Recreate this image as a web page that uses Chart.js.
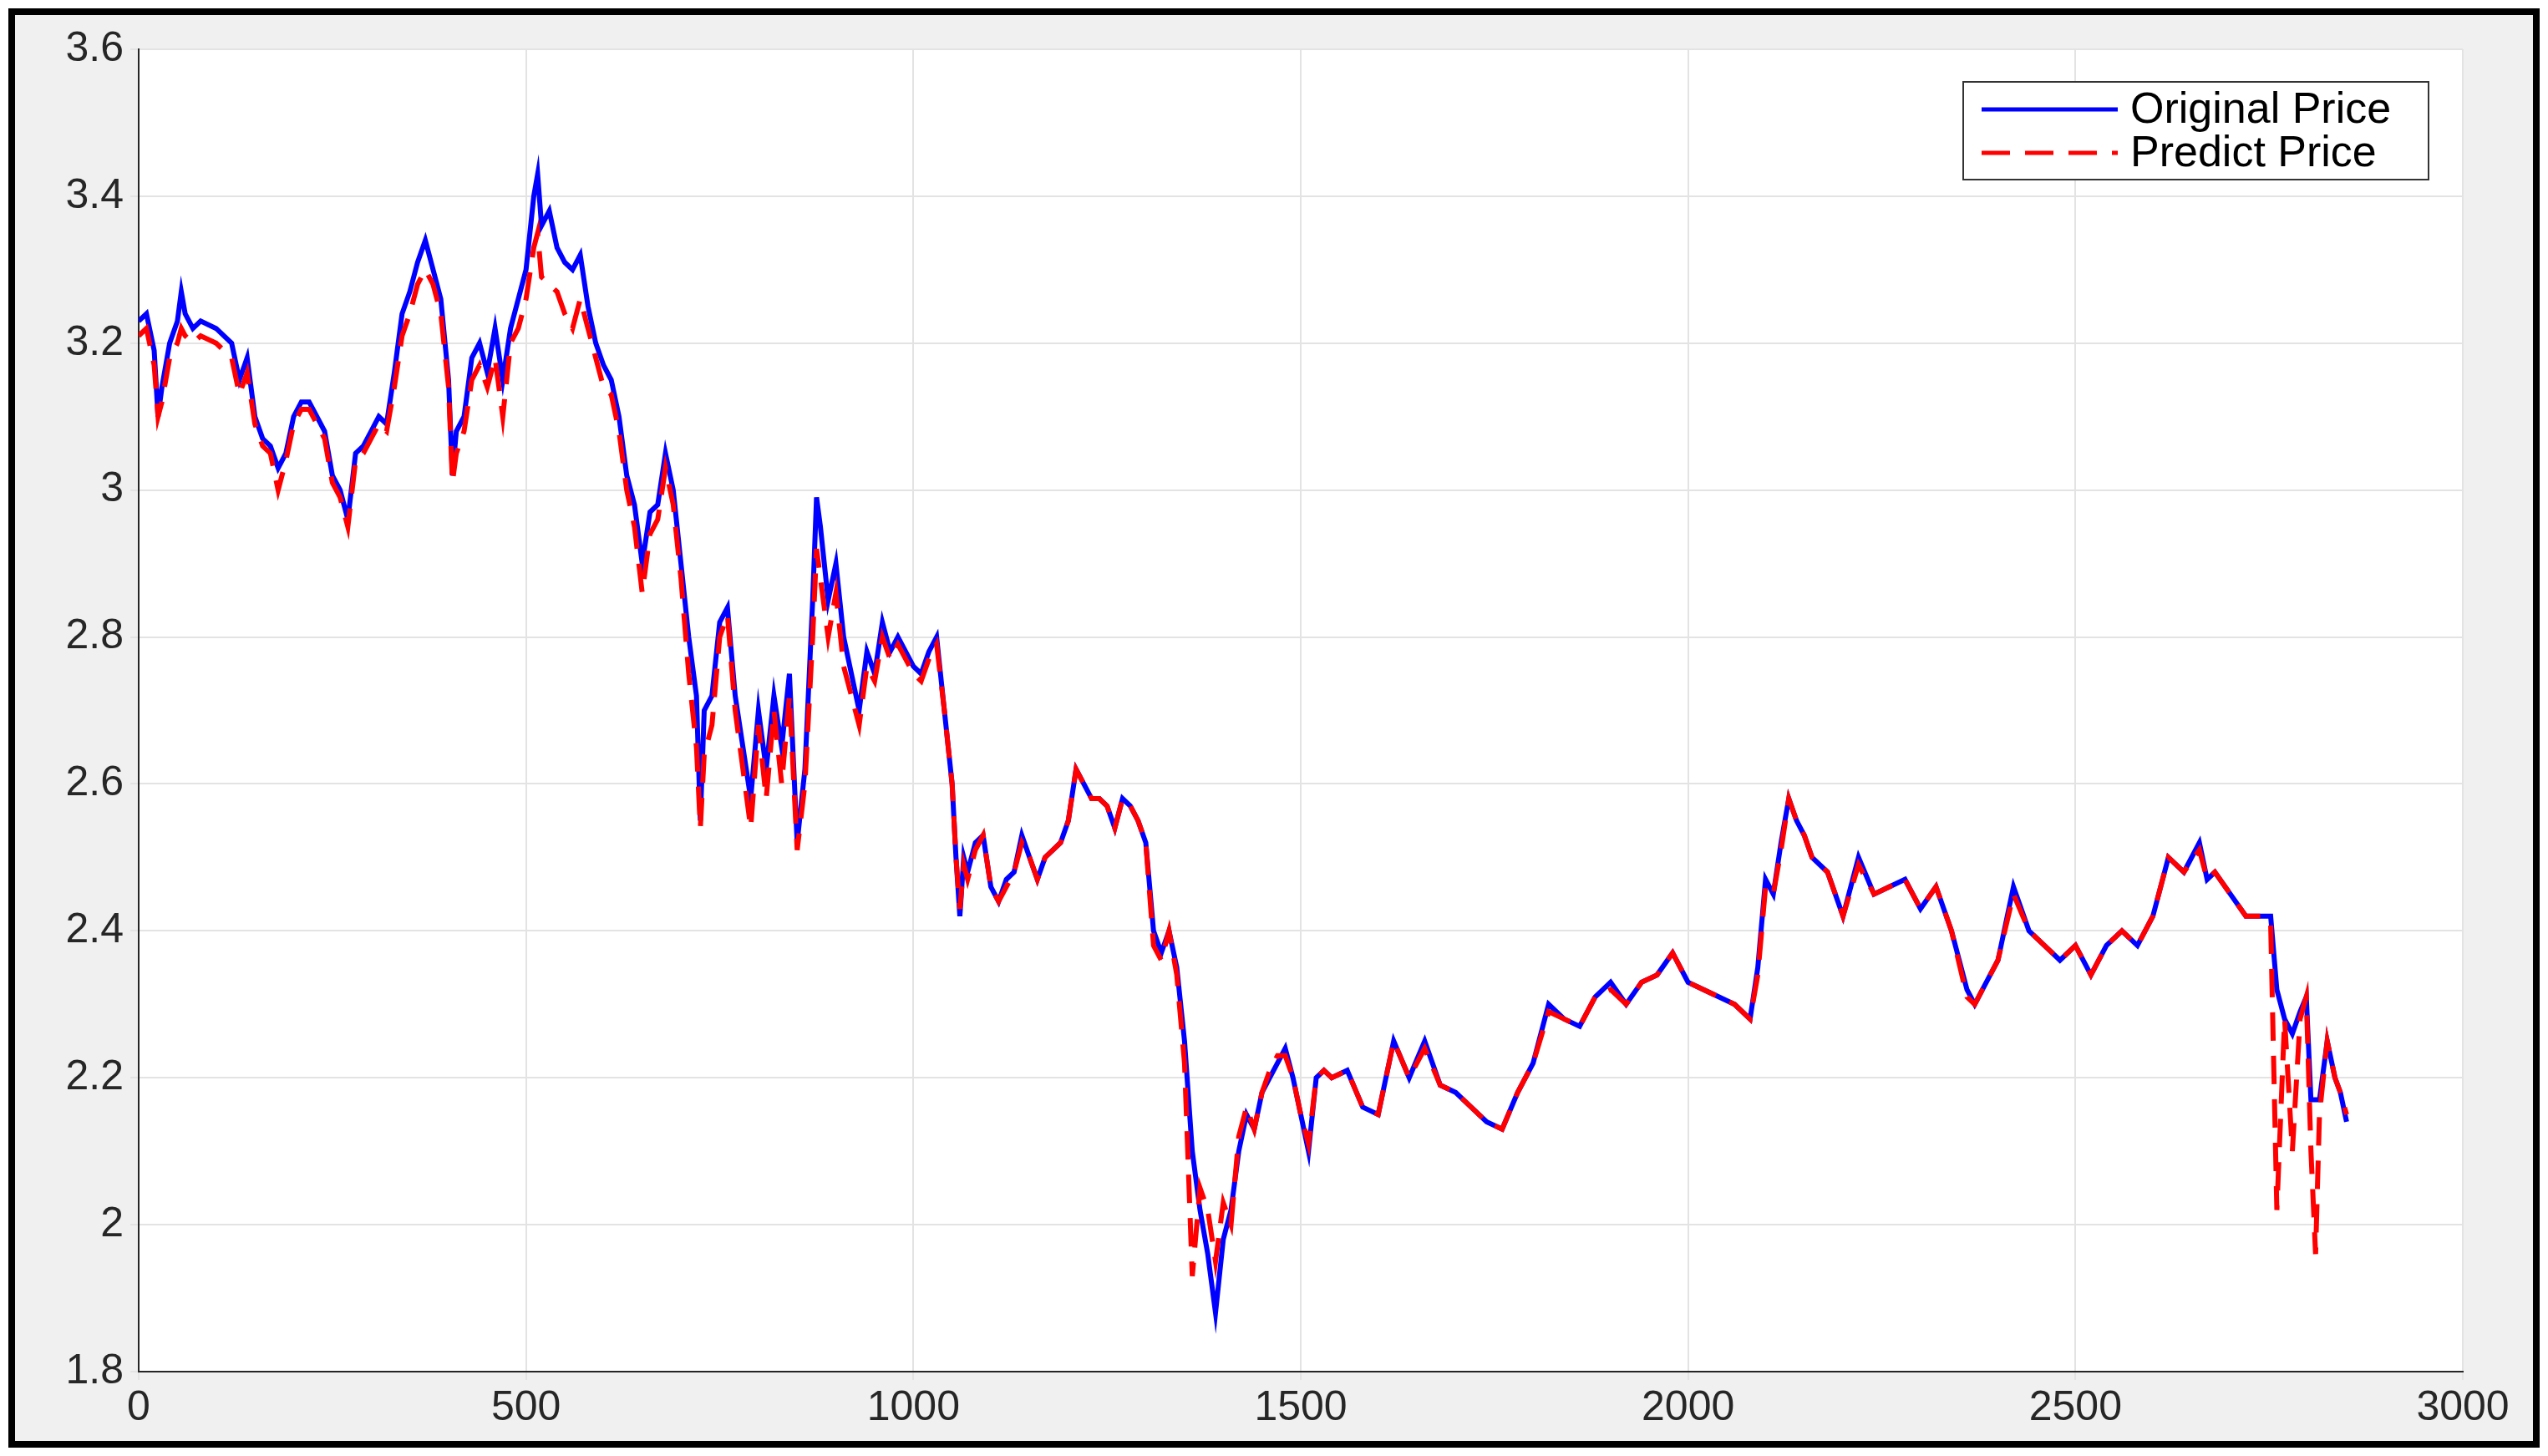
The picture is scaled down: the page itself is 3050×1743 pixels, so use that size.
<!DOCTYPE html>
<html>
<head>
<meta charset="utf-8">
<script src="https://cdn.jsdelivr.net/npm/chart.js@4"></script>
<style>
  html, body { margin: 0; padding: 0; background: #fff; }
  #wrap { width: 3050px; height: 1743px; }
</style>
</head>
<body>
<div id="wrap"><canvas id="chart" width="3050" height="1743"></canvas></div>
<script>
const steps = [
  0, 10, 20, 25, 30, 40, 50, 55, 60, 70,
  80, 100, 120, 130, 140, 150, 160, 170, 180, 190,
  200, 210, 220, 230, 240, 250, 260, 270, 280, 290,
  300, 310, 320, 330, 340, 350, 360, 370, 380, 390,
  400, 405, 410, 420, 430, 440, 450, 460, 470, 480,
  490, 500, 510, 515, 520, 530, 540, 550, 560, 570,
  580, 590, 600, 610, 620, 630, 640, 650, 660, 670,
  680, 690, 700, 710, 720, 725, 730, 740, 750, 760,
  770, 780, 790, 800, 810, 820, 830, 840, 850, 860,
  870, 875, 880, 890, 900, 910, 920, 930, 940, 950,
  960, 970, 980, 1000, 1010, 1020, 1030, 1040, 1050, 1055,
  1060, 1065, 1070, 1080, 1090, 1100, 1110, 1120, 1130, 1140,
  1150, 1160, 1170, 1180, 1190, 1200, 1210, 1220, 1230, 1240,
  1250, 1260, 1270, 1280, 1290, 1300, 1310, 1320, 1330, 1340,
  1350, 1360, 1370, 1380, 1390, 1400, 1410, 1420, 1430, 1440,
  1450, 1460, 1470, 1480, 1490, 1500, 1510, 1520, 1530, 1540,
  1560, 1580, 1600, 1620, 1640, 1660, 1680, 1700, 1720, 1740,
  1760, 1780, 1800, 1820, 1840, 1860, 1880, 1900, 1920, 1940,
  1960, 1980, 2000, 2020, 2040, 2060, 2080, 2090, 2100, 2110,
  2120, 2130, 2140, 2150, 2160, 2180, 2200, 2220, 2240, 2260,
  2280, 2300, 2320, 2340, 2360, 2370, 2380, 2400, 2420, 2440,
  2460, 2480, 2500, 2520, 2540, 2560, 2580, 2600, 2620, 2640,
  2660, 2670, 2680, 2700, 2720, 2740, 2752, 2760, 2770, 2780,
  2790, 2798, 2804, 2810, 2815, 2825, 2835, 2842, 2850
];

const originalPrice = [
  3.23, 3.24, 3.19, 3.10, 3.14, 3.20, 3.23, 3.27, 3.24, 3.22,
  3.23, 3.22, 3.20, 3.15, 3.18, 3.10, 3.07, 3.06, 3.03, 3.05,
  3.10, 3.12, 3.12, 3.10, 3.08, 3.02, 3.00, 2.96, 3.05, 3.06,
  3.08, 3.10, 3.09, 3.16, 3.24, 3.27, 3.31, 3.34, 3.30, 3.26,
  3.15, 3.02, 3.08, 3.10, 3.18, 3.20, 3.16, 3.22, 3.15, 3.22,
  3.26, 3.30, 3.40, 3.43, 3.36, 3.38, 3.33, 3.31, 3.30, 3.32,
  3.25, 3.20, 3.17, 3.15, 3.10, 3.02, 2.98, 2.90, 2.97, 2.98,
  3.05, 3.00, 2.90, 2.80, 2.72, 2.55, 2.70, 2.72, 2.82, 2.84,
  2.72, 2.65, 2.58, 2.70, 2.62, 2.72, 2.65, 2.75, 2.52, 2.62,
  2.85, 2.99, 2.95, 2.85, 2.90, 2.80, 2.75, 2.70, 2.78, 2.75,
  2.82, 2.78, 2.80, 2.76, 2.75, 2.78, 2.80, 2.70, 2.60, 2.50,
  2.42, 2.50, 2.48, 2.52, 2.53, 2.46, 2.44, 2.47, 2.48, 2.53,
  2.50, 2.47, 2.50, 2.51, 2.52, 2.55, 2.62, 2.60, 2.58, 2.58,
  2.57, 2.54, 2.58, 2.57, 2.55, 2.52, 2.40, 2.37, 2.40, 2.35,
  2.25, 2.10, 2.02, 1.96, 1.88, 1.98, 2.02, 2.10, 2.15, 2.13,
  2.18, 2.20, 2.22, 2.24, 2.20, 2.15, 2.10, 2.20, 2.21, 2.20,
  2.21, 2.16, 2.15, 2.25, 2.20, 2.25, 2.19, 2.18, 2.16, 2.14,
  2.13, 2.18, 2.22, 2.30, 2.28, 2.27, 2.31, 2.33, 2.30, 2.33,
  2.34, 2.37, 2.33, 2.32, 2.31, 2.30, 2.28, 2.35, 2.47, 2.45,
  2.52, 2.58, 2.55, 2.53, 2.50, 2.48, 2.42, 2.50, 2.45, 2.46,
  2.47, 2.43, 2.46, 2.40, 2.32, 2.30, 2.32, 2.36, 2.46, 2.40,
  2.38, 2.36, 2.38, 2.34, 2.38, 2.40, 2.38, 2.42, 2.50, 2.48,
  2.52, 2.47, 2.48, 2.45, 2.42, 2.42, 2.42, 2.32, 2.28, 2.26,
  2.29, 2.31, 2.17, 2.17, 2.17, 2.25, 2.20, 2.18, 2.14
];

const predictPrice = [
  3.21, 3.22, 3.17, 3.10, 3.12, 3.18, 3.20, 3.22, 3.21, 3.20,
  3.21, 3.20, 3.18, 3.13, 3.16, 3.09, 3.06, 3.05, 3.00, 3.04,
  3.09, 3.11, 3.11, 3.09, 3.07, 3.01, 2.99, 2.95, 3.04, 3.05,
  3.07, 3.09, 3.08, 3.14, 3.21, 3.24, 3.28, 3.30, 3.28, 3.24,
  3.14, 3.01, 3.05, 3.08, 3.15, 3.17, 3.14, 3.18, 3.10, 3.20,
  3.22, 3.26, 3.33, 3.35, 3.29, 3.28, 3.27, 3.24, 3.22, 3.26,
  3.22, 3.18, 3.14, 3.13, 3.08, 3.00, 2.95, 2.86, 2.94, 2.96,
  3.03, 2.98, 2.88, 2.75, 2.65, 2.54, 2.64, 2.68, 2.80, 2.83,
  2.70, 2.62, 2.54, 2.68, 2.58, 2.70, 2.60, 2.72, 2.51, 2.60,
  2.80, 2.92, 2.88, 2.80, 2.86, 2.76, 2.72, 2.68, 2.76, 2.74,
  2.80, 2.77, 2.79, 2.75, 2.74, 2.77, 2.79, 2.70, 2.60, 2.50,
  2.43, 2.49, 2.47, 2.51, 2.53, 2.46, 2.44, 2.46, 2.48, 2.52,
  2.50, 2.47, 2.50, 2.51, 2.52, 2.55, 2.62, 2.60, 2.58, 2.58,
  2.57, 2.54, 2.58, 2.57, 2.55, 2.52, 2.38, 2.36, 2.40, 2.34,
  2.22, 1.93, 2.05, 2.02, 1.95, 2.03, 2.00, 2.12, 2.16, 2.13,
  2.18, 2.21, 2.23, 2.23, 2.20, 2.15, 2.11, 2.20, 2.21, 2.20,
  2.21, 2.16, 2.15, 2.25, 2.20, 2.24, 2.19, 2.18, 2.16, 2.14,
  2.13, 2.18, 2.22, 2.29, 2.28, 2.27, 2.31, 2.32, 2.30, 2.33,
  2.34, 2.37, 2.33, 2.32, 2.31, 2.30, 2.28, 2.34, 2.46, 2.45,
  2.51, 2.58, 2.55, 2.53, 2.50, 2.48, 2.42, 2.49, 2.45, 2.46,
  2.47, 2.43, 2.46, 2.40, 2.31, 2.30, 2.32, 2.36, 2.45, 2.40,
  2.38, 2.36, 2.38, 2.34, 2.38, 2.40, 2.38, 2.42, 2.50, 2.48,
  2.51, 2.47, 2.48, 2.45, 2.42, 2.42, 2.41, 2.02, 2.28, 2.10,
  2.28, 2.31, 2.10, 1.96, 2.15, 2.25, 2.20, 2.18, 2.15
];

const xTicks = [0, 500, 1000, 1500, 2000, 2500, 3000];
const yTicks = [1.8, 2, 2.2, 2.4, 2.6, 2.8, 3, 3.2, 3.4, 3.6];

const tickFont = { family: "Liberation Sans", size: 50 };

// gray figure background, white axes, black outer frame, legend box
const framePlugin = {
  id: "frame",
  beforeDraw(chart) {
    const { ctx, chartArea: a, width, height } = chart;
    ctx.save();
    ctx.fillStyle = "#fff";
    ctx.fillRect(0, 0, width, height);
    ctx.fillStyle = "#f0f0f0";
    ctx.fillRect(14, 14, width - 28, height - 28);
    ctx.fillStyle = "#fff";
    ctx.fillRect(a.left, a.top, a.right - a.left, a.bottom - a.top);
    ctx.lineWidth = 8;
    ctx.strokeStyle = "#000";
    ctx.strokeRect(14, 14, width - 28, height - 28);
    ctx.restore();
  },
  afterDraw(chart) {
    const { ctx } = chart;
    const x = 2350, y = 98, w = 557, h = 117;
    ctx.save();
    ctx.fillStyle = "#fff";
    ctx.fillRect(x, y, w, h);
    ctx.strokeStyle = "#333";
    ctx.lineWidth = 2;
    ctx.strokeRect(x, y, w, h);
    ctx.font = "52px 'Liberation Sans'";
    ctx.textBaseline = "middle";
    chart.data.datasets.forEach((ds, i) => {
      const ly = y + 33 + i * 52;
      ctx.strokeStyle = ds.borderColor;
      ctx.lineWidth = 5;
      ctx.setLineDash(ds.borderDash || []);
      ctx.beginPath();
      ctx.moveTo(x + 22, ly);
      ctx.lineTo(x + 185, ly);
      ctx.stroke();
      ctx.setLineDash([]);
      ctx.fillStyle = "#000";
      ctx.fillText(ds.label, x + 200, ly + 2);
    });
    ctx.restore();
  },
};

new Chart(document.getElementById("chart"), {
  type: "line",
  data: {
    datasets: [
      {
        label: "Original Price",
        data: steps.map((s, i) => ({ x: s, y: originalPrice[i] })),
        borderColor: "#0000ff",
        borderWidth: 6,
        pointRadius: 0,
        tension: 0,
        order: 2,
      },
      {
        label: "Predict Price",
        data: steps.map((s, i) => ({ x: s, y: predictPrice[i] })),
        borderColor: "#ff0000",
        borderWidth: 6,
        borderDash: [34, 18],
        pointRadius: 0,
        tension: 0,
        order: 1,
      },
    ],
  },
  options: {
    responsive: false,
    animation: false,
    layout: { padding: { left: 16, right: 102, top: 59, bottom: 16 } },
    plugins: { legend: { display: false }, tooltip: { enabled: false } },
    scales: {
      x: {
        type: "linear",
        min: 0,
        max: 3000,
        afterBuildTicks: (axis) => { axis.ticks = xTicks.map((v) => ({ value: v })); },
        afterFit: (axis) => { axis.height = 85; },
        ticks: { font: tickFont, color: "#262626", padding: 4, maxRotation: 0, callback: (v) => String(v) },
        grid: { color: "#e3e3e3", lineWidth: 2, tickLength: 10 },
        border: { color: "#262626", width: 2 },
      },
      y: {
        min: 1.8,
        max: 3.6,
        afterBuildTicks: (axis) => { axis.ticks = yTicks.map((v) => ({ value: v })); },
        afterFit: (axis) => { axis.width = 150; },
        ticks: { font: tickFont, color: "#262626", padding: 8, callback: (v) => String(v) },
        grid: { color: "#e3e3e3", lineWidth: 2, tickLength: 10 },
        border: { color: "#262626", width: 2 },
      },
    },
  },
  plugins: [framePlugin],
});
</script>
</body>
</html>
